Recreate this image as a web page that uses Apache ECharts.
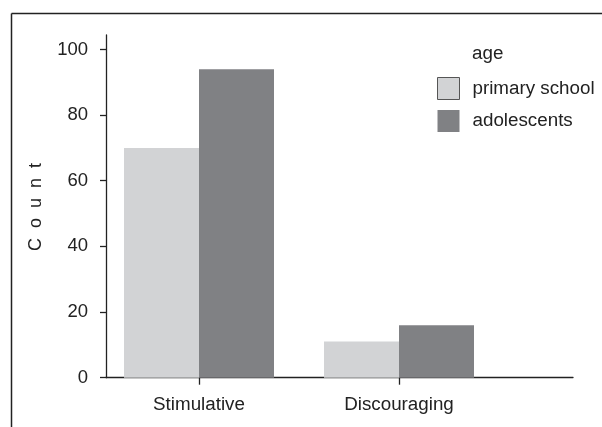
<!DOCTYPE html>
<html>
<head>
<meta charset="utf-8">
<script src="https://cdn.jsdelivr.net/npm/echarts@6/dist/echarts.min.js"></script>
<style>
html,body{margin:0;padding:0;background:#fff;}
#c{width:602px;height:427px;}
</style>
</head>
<body>
<div id="c"></div>
<script>
const categories = ['Stimulative', 'Discouraging'];
const categoryPos = [1, 2];
const primarySchool = [70, 11];
const adolescents = [94, 16];
const yTicks = [0, 20, 40, 60, 80, 100];
const seriesNames = ['primary school', 'adolescents'];
const legendTitle = 'age';
const yTitle = 'C  o  u  n  t';

const FONT = 'Liberation Sans, Arial, sans-serif';
const chart = echarts.init(document.getElementById('c'), null, {renderer: 'canvas'});

const option = {
  backgroundColor: '#fff',
  animation: false,
  grid: {left: 106, right: 29, top: 35, bottom: 49.3, containLabel: false},
  xAxis: {
    type: 'value',
    min: 0.535,
    max: 2.87,
    splitLine: {show: false},
    axisLine: {show: true, lineStyle: {color: '#222', width: 1.3}},
    axisTick: {show: true, customValues: categoryPos, length: 7, lineStyle: {color: '#222', width: 1.3}},
    axisLabel: {
      customValues: categoryPos,
      formatter: v => categories[categoryPos.indexOf(Math.round(v))] || '',
      color: '#222', fontSize: 18.8, fontFamily: FONT, margin: 18
    }
  },
  yAxis: {
    type: 'value',
    min: 0,
    max: 104.4,
    interval: 20,
    splitLine: {show: false},
    axisLine: {show: true, lineStyle: {color: '#222', width: 1.3}},
    axisTick: {show: true, customValues: yTicks, length: 6, lineStyle: {color: '#222', width: 1.3}},
    axisLabel: {
      customValues: yTicks,
      color: '#222', fontSize: 18.5, fontFamily: FONT, margin: 18
    }
  },
  legend: {
    show: true,
    left: 437, top: 77,
    padding: 0,
    orient: 'vertical',
    itemWidth: 22, itemHeight: 22, itemGap: 10,
    icon: 'rect',
    textStyle: {color: '#222', fontSize: 18.8, fontFamily: FONT, padding: [0, 0, 0, 8]},
    data: [
      {name: seriesNames[0], itemStyle: {borderColor: '#555', borderWidth: 1}},
      {name: seriesNames[1]}
    ]
  },
  series: [
    {
      name: seriesNames[0], type: 'bar', barWidth: 75, barGap: '0%',
      itemStyle: {color: '#d2d3d5'},
      data: categoryPos.map((p, i) => [p, primarySchool[i]])
    },
    {
      name: seriesNames[1], type: 'bar', barWidth: 75, barGap: '0%',
      itemStyle: {color: '#808184'},
      data: categoryPos.map((p, i) => [p, adolescents[i]])
    }
  ],
  graphic: [
    {type: 'line', shape: {x1: 11.5, y1: 13.5, x2: 602, y2: 13.5}, style: {stroke: '#222', lineWidth: 1.5}},
    {type: 'line', shape: {x1: 11.5, y1: 13.5, x2: 11.5, y2: 427}, style: {stroke: '#222', lineWidth: 1.5}},
    {type: 'text', left: 472, top: 44, style: {text: legendTitle, fill: '#222', font: '18.8px ' + FONT}},
    {type: 'text', x: 36.5, y: 207, rotation: Math.PI / 2,
      style: {text: yTitle, fill: '#222', font: '18px ' + FONT, align: 'center', verticalAlign: 'middle'}}
  ]
};
chart.setOption(option);
</script>
</body>
</html>
